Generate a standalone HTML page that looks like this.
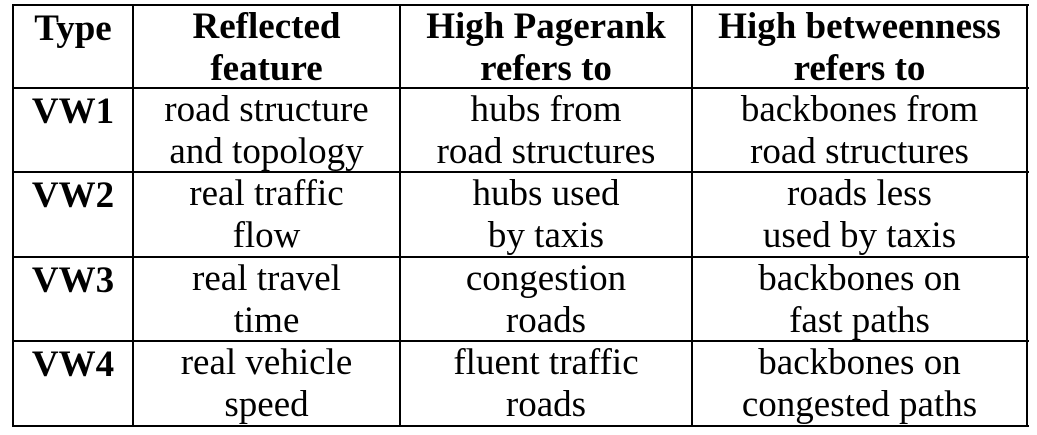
<!DOCTYPE html>
<html><head><style>
body{margin:0;width:1037px;height:435px;background:#fff;position:relative;overflow:hidden;font-family:"Liberation Serif",serif;color:#000}
.h{position:absolute;background:#000;height:2px}
.v{position:absolute;background:#000;width:2px;top:4px;height:423px}
.t{position:absolute;text-align:center;font-size:37px;line-height:42px;white-space:nowrap;margin-top:2px}
b{font-weight:bold}
</style></head><body>
<div class="h" style="left:12px;width:1017px;top:4px"></div>
<div class="h" style="left:12px;width:1017px;top:87px"></div>
<div class="h" style="left:12px;width:1017px;top:171px"></div>
<div class="h" style="left:12px;width:1017px;top:256px"></div>
<div class="h" style="left:12px;width:1017px;top:340px"></div>
<div class="h" style="left:12px;width:1017px;top:425px"></div>
<div class="v" style="left:12px"></div>
<div class="v" style="left:132px"></div>
<div class="v" style="left:399px"></div>
<div class="v" style="left:691px"></div>
<div class="v" style="left:1026px"></div>

<div class="t" style="left:14px;width:118px;top:6px"><b>Type</b></div>
<div class="t" style="left:134px;width:265px;top:4px"><b>Reflected<br>feature</b></div>
<div class="t" style="left:401px;width:290px;top:4px"><b>High Pagerank<br>refers to</b></div>
<div class="t" style="left:693px;width:333px;top:4px"><b>High betweenness<br>refers to</b></div>

<div class="t" style="left:14px;width:118px;top:89px"><b>VW1</b></div>
<div class="t" style="left:134px;width:265px;top:87px">road structure<br>and topology</div>
<div class="t" style="left:401px;width:290px;top:87px">hubs from<br>road structures</div>
<div class="t" style="left:693px;width:333px;top:87px">backbones from<br>road structures</div>

<div class="t" style="left:14px;width:118px;top:173px"><b>VW2</b></div>
<div class="t" style="left:134px;width:265px;top:171px">real traffic<br>flow</div>
<div class="t" style="left:401px;width:290px;top:171px">hubs used<br>by taxis</div>
<div class="t" style="left:693px;width:333px;top:171px">roads less<br>used by taxis</div>

<div class="t" style="left:14px;width:118px;top:258px"><b>VW3</b></div>
<div class="t" style="left:134px;width:265px;top:256px">real travel<br>time</div>
<div class="t" style="left:401px;width:290px;top:256px">congestion<br>roads</div>
<div class="t" style="left:693px;width:333px;top:256px">backbones on<br>fast paths</div>

<div class="t" style="left:14px;width:118px;top:342px"><b>VW4</b></div>
<div class="t" style="left:134px;width:265px;top:340px">real vehicle<br>speed</div>
<div class="t" style="left:401px;width:290px;top:340px">fluent traffic<br>roads</div>
<div class="t" style="left:693px;width:333px;top:340px">backbones on<br>congested paths</div>
</body></html>
